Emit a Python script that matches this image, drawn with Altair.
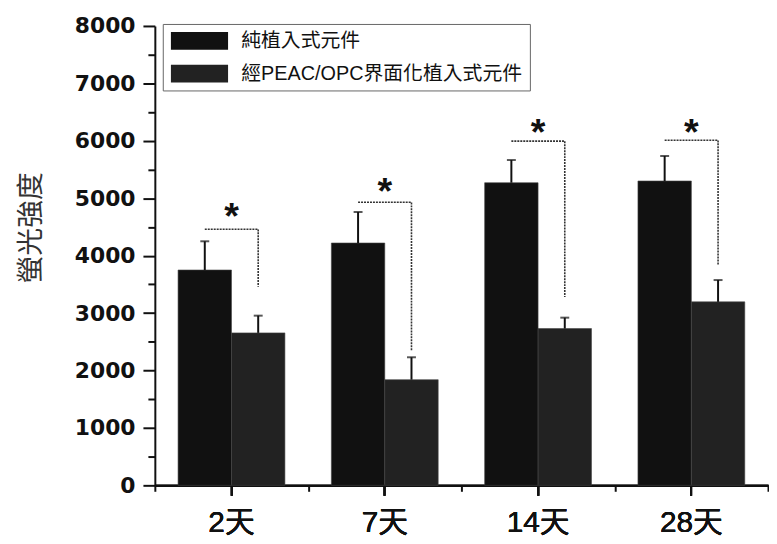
import altair as alt
import pandas as pd

days = ["2天", "7天", "14天", "28天"]
series = ["純植入式元件", "經PEAC/OPC界面化植入式元件"]
pure_mean = [3750, 4220, 5270, 5300]
pure_upper = [4250, 4760, 5665, 5735]
coated_mean = [2655, 1840, 2730, 3195]
coated_upper = [2955, 2230, 2920, 3575]
bracket_top = [4460, 4930, 5995, 6010]
bracket_bottom = [3460, 2340, 3280, 3835]
star_y = [4820, 5255, 6290, 6290]
y_ticks = list(range(0, 8001, 500))

rows = []
for i, d in enumerate(days):
    rows.append({"day": d, "series": series[0], "value": pure_mean[i], "upper": pure_upper[i]})
    rows.append({"day": d, "series": series[1], "value": coated_mean[i], "upper": coated_upper[i]})
bars_df = pd.DataFrame(rows)

br = []
for i, d in enumerate(days):
    br.append({"day": d, "series": series[0], "value": bracket_top[i], "k": 0})
    br.append({"day": d, "series": series[1], "value": bracket_top[i], "k": 1})
    br.append({"day": d, "series": series[1], "value": bracket_bottom[i], "k": 2})
br_df = pd.DataFrame(br)
star_df = pd.DataFrame({"day": days, "value": star_y, "t": ["*"] * 4})

LAT = "Liberation Sans, Noto Sans CJK TC"
CJK = "Noto Sans CJK TC"

xscale = alt.Scale(domain=days, paddingInner=0, paddingOuter=0)
oscale = alt.Scale(domain=series, paddingInner=0, paddingOuter=0.435)
yscale = alt.Scale(domain=[0, 8000], nice=False)

main_x_axis = alt.Axis(
    title=None, labelFont=LAT, labelFontSize=30, labelColor="#111",
    labelPadding=13, tickSize=10, tickWidth=2, tickColor="#111",
    domainColor="#111", domainWidth=2, labelAngle=0, orient="bottom",
)
minor_x_axis = alt.Axis(
    title=None, labels=False, domain=False, tickBand="extent",
    tickSize=6, tickWidth=2, tickColor="#111", orient="bottom",
)
y_axis = alt.Axis(
    values=y_ticks, format="d",
    labelExpr="datum.value % 1000 === 0 ? datum.label : ''",
    tickSize={"condition": {"test": "datum.value % 1000 === 0", "value": 12}, "value": 7},
    tickWidth=2, tickColor="#111", domainColor="#111", domainWidth=2,
    labelFont="DejaVu Sans", labelFontWeight="bold", labelFontSize=22,
    labelColor="#111", labelPadding=8, grid=False,
    title="螢光強度", titleFont=CJK, titleFontSize=28, titleFontWeight="normal",
    titleColor="#333", titleX=-124, titleY=203, titleAlign="center",
    titleBaseline="middle", titleAngle=-90,
)

def X(axis):
    return alt.X("day:N", sort=days, scale=xscale, axis=axis)

def XO():
    return alt.XOffset("series:N", sort=series, scale=oscale)

def Y(field):
    return alt.Y(field, scale=yscale, axis=y_axis, title="螢光強度")

bars = alt.Chart(bars_df).mark_bar(stroke="#444", strokeWidth=0.6).encode(
    x=X(main_x_axis), xOffset=XO(), y=Y("value:Q"),
    color=alt.Color(
        "series:N", sort=series,
        scale=alt.Scale(domain=series, range=["#111111", "#222222"]),
        legend=alt.Legend(
            title=None, orient="none", legendX=8, legendY=-2,
            symbolType="M-3.2,-1H3.2V1H-3.2Z", symbolSize=324,
            symbolStrokeWidth=0, symbolOpacity=1, symbolOffset=20,
            labelFont=LAT, labelFontSize=20, labelColor="#111", labelLimit=600,
            labelOffset=32, padding=7, rowPadding=13,
            strokeColor="#666",
            fillColor="white",
        ),
    ),
)

err = alt.Chart(bars_df).mark_rule(color="#111", strokeWidth=2).encode(
    x=X(main_x_axis), xOffset=XO(), y=Y("value:Q"), y2="upper:Q",
)
caps = alt.Chart(bars_df).mark_tick(color="#111", thickness=2, size=9).encode(
    x=X(main_x_axis), xOffset=XO(), y=Y("upper:Q"),
)
brackets = alt.Chart(br_df).mark_line(color="#333", strokeWidth=1.6, strokeDash=[2, 1]).encode(
    x=X(main_x_axis), xOffset=XO(), y=Y("value:Q"),
    detail="day:N", order="k:O",
)
stars = alt.Chart(star_df).mark_text(
    font="Liberation Sans", fontWeight="bold", fontSize=38, color="#111",
    baseline="alphabetic", dy=21,
).encode(
    x=X(minor_x_axis), y=Y("value:Q"), text="t:N",
)

chart = alt.layer(bars, err, caps, brackets, stars).resolve_axis(
    x="independent"
).properties(
    width=618, height=463, padding={"left": 10, "top": 5, "right": 0, "bottom": 0},
    background="white",
).configure_view(stroke=None)

chart.save("out.html", embed_options={"renderer": "svg", "actions": False})
